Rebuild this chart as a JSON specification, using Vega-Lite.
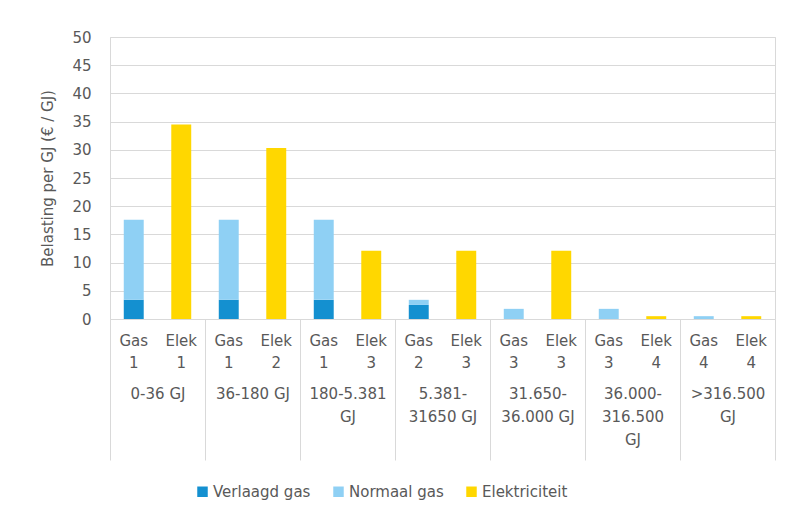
{
  "$schema": "https://vega.github.io/schema/vega-lite/v6.json",
  "autosize": "none",
  "width": 665,
  "height": 282,
  "padding": {"left": 110, "top": 37, "right": 21, "bottom": 198},
  "background": "white",
  "config": {
    "font": "DejaVu Sans",
    "view": {"stroke": "#d9d9d9", "strokeWidth": 1},
    "axis": {"labelColor": "#595959", "titleColor": "#595959", "labelFontSize": 15, "titleFontSize": 15, "titleFontWeight": "normal"}
  },
  "data": {
    "values": [
      {"g": "1~0-36 GJ", "bar": "01 Gas 1", "type": "Verlaagd gas", "o": 1, "value": 3.4},
      {"g": "1~0-36 GJ", "bar": "01 Gas 1", "type": "Normaal gas", "o": 2, "value": 14.2},
      {"g": "1~0-36 GJ", "bar": "02 Elek 1", "type": "Elektriciteit", "o": 3, "value": 34.5},
      {"g": "2~36-180 GJ", "bar": "03 Gas 1", "type": "Verlaagd gas", "o": 1, "value": 3.4},
      {"g": "2~36-180 GJ", "bar": "03 Gas 1", "type": "Normaal gas", "o": 2, "value": 14.2},
      {"g": "2~36-180 GJ", "bar": "04 Elek 2", "type": "Elektriciteit", "o": 3, "value": 30.3},
      {"g": "3~180-5.381|GJ", "bar": "05 Gas 1", "type": "Verlaagd gas", "o": 1, "value": 3.4},
      {"g": "3~180-5.381|GJ", "bar": "05 Gas 1", "type": "Normaal gas", "o": 2, "value": 14.2},
      {"g": "3~180-5.381|GJ", "bar": "06 Elek 3", "type": "Elektriciteit", "o": 3, "value": 12.1},
      {"g": "4~5.381-|31650 GJ", "bar": "07 Gas 2", "type": "Verlaagd gas", "o": 1, "value": 2.5},
      {"g": "4~5.381-|31650 GJ", "bar": "07 Gas 2", "type": "Normaal gas", "o": 2, "value": 0.9},
      {"g": "4~5.381-|31650 GJ", "bar": "08 Elek 3", "type": "Elektriciteit", "o": 3, "value": 12.1},
      {"g": "5~31.650-|36.000 GJ", "bar": "09 Gas 3", "type": "Normaal gas", "o": 2, "value": 1.8},
      {"g": "5~31.650-|36.000 GJ", "bar": "10 Elek 3", "type": "Elektriciteit", "o": 3, "value": 12.1},
      {"g": "6~36.000-|316.500|GJ", "bar": "11 Gas 3", "type": "Normaal gas", "o": 2, "value": 1.8},
      {"g": "6~36.000-|316.500|GJ", "bar": "12 Elek 4", "type": "Elektriciteit", "o": 3, "value": 0.5},
      {"g": "7~>316.500|GJ", "bar": "13 Gas 4", "type": "Normaal gas", "o": 2, "value": 0.5},
      {"g": "7~>316.500|GJ", "bar": "14 Elek 4", "type": "Elektriciteit", "o": 3, "value": 0.5}
    ]
  },
  "layer": [
    {
      "mark": {"type": "bar", "width": {"band": 0.42}},
      "encoding": {
        "x": {
          "field": "bar", "type": "nominal", "sort": "ascending",
          "scale": {"paddingInner": 0, "paddingOuter": 0},
          "axis": {"orient": "bottom", "title": null, "ticks": false, "domain": false, "grid": false, "labelAngle": 0,
                   "labelPadding": 14, "labelBaseline": "top", "labelLineHeight": 22,
                   "labelExpr": "split(slice(datum.label, 3), ' ')"}
        },
        "y": {
          "field": "value", "type": "quantitative", "stack": "zero",
          "scale": {"domain": [0, 50], "nice": false},
          "axis": {"title": "Belasting per GJ (€ / GJ)", "values": [0, 5, 10, 15, 20, 25, 30, 35, 40, 45, 50],
                   "ticks": false, "domain": false, "gridColor": "#d9d9d9", "labelPadding": 19, "titlePadding": 16}
        },
        "color": {
          "field": "type", "type": "nominal",
          "scale": {"domain": ["Verlaagd gas", "Normaal gas", "Elektriciteit"], "range": ["#1490d0", "#8fd0f4", "#ffd700"]},
          "legend": {"orient": "none", "direction": "horizontal", "legendX": 85, "legendY": 447, "title": null,
                     "symbolType": "square", "symbolSize": 110, "symbolStrokeWidth": 0, "labelFontSize": 15, "labelColor": "#595959",
                     "columnPadding": 20, "labelOffset": 3}
        },
        "order": {"field": "o", "type": "quantitative"}
      }
    },
    {
      "mark": {"type": "rule", "opacity": 0},
      "encoding": {
        "x": {
          "field": "g", "type": "nominal", "sort": "ascending",
          "scale": {"paddingInner": 0, "paddingOuter": 0},
          "axis": {"orient": "bottom", "title": null, "domain": false, "grid": false, "labelAngle": 0,
                   "ticks": true, "tickBand": "extent", "tickSize": 141, "tickColor": "#d9d9d9",
                   "labelPadding": -74, "labelBaseline": "top", "labelLineHeight": 23,
                   "labelExpr": "split(slice(datum.label, 2), '|')"}
        }
      }
    }
  ],
  "resolve": {"scale": {"x": "independent"}}
}
